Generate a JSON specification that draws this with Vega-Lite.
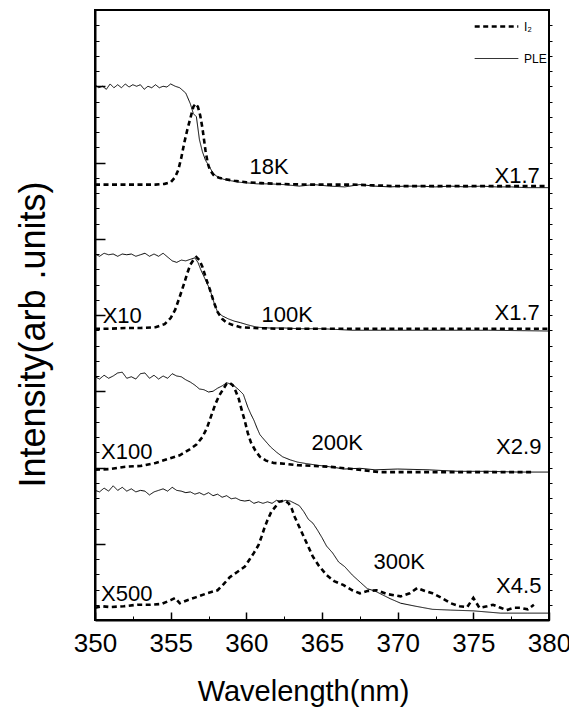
{
  "$schema": "https://vega.github.io/schema/vega-lite/v6.json",
  "width": 454,
  "height": 610,
  "autosize": {"type": "none"},
  "padding": {"left": 95, "top": 10, "right": 20, "bottom": 93},
  "background": "white",
  "config": {
    "view": {"stroke": "black", "strokeWidth": 2},
    "axis": {"grid": false, "domainColor": "black", "tickColor": "black", "labelColor": "black", "titleColor": "black", "labelFont": "Liberation Sans", "titleFont": "Liberation Sans", "titleFontWeight": "normal"}
  },
  "datasets": {
    "curves": [
      {"temp": "18K", "series": "PLE",
       "nm": [350,350.25,350.5,350.75,351,351.25,351.5,351.75,352,352.25,352.5,352.75,353,353.25,353.5,353.75,354,354.25,354.5,354.75,355,355.3,355.6,356,356.3,356.5,356.7,356.9,357.1,357.3,357.6,357.8,358.1,358.5,359,359.6,360.2,360.7,361.5,362.5,363.5,364.5,365.5,366.5,367.5,368.5,369.5,370.5,371.5,372.5,373.5,374.5,375.5,376.5,377.5,378.5,380],
       "intensity": [7.02,6.98,7.0,6.96,7.03,6.98,7.02,6.98,7.03,6.99,7.02,7.0,7.02,6.96,7.0,6.98,7.02,6.98,7.0,6.99,7.03,7.0,6.98,6.91,6.77,6.64,6.6,6.3,6.14,6.03,5.93,5.86,5.81,5.78,5.76,5.74,5.73,5.72,5.72,5.71,5.69,5.71,5.69,5.68,5.71,5.69,5.68,5.69,5.69,5.68,5.69,5.68,5.69,5.68,5.68,5.67,5.67]},
      {"temp": "18K", "series": "I\u2082",
       "nm": [350,351,352,353,354,354.6,355,355.3,355.5,355.7,355.9,356.1,356.3,356.5,356.65,356.8,356.95,357.1,357.3,357.45,357.6,357.9,358.2,358.6,359.2,360,361,362,364,367,370,374,378,380],
       "intensity": [5.71,5.71,5.71,5.71,5.71,5.72,5.74,5.81,5.9,6.06,6.26,6.43,6.58,6.73,6.77,6.73,6.62,6.45,6.16,5.99,5.9,5.82,5.8,5.78,5.76,5.74,5.73,5.72,5.71,5.71,5.69,5.69,5.69,5.69]},
      {"temp": "100K", "series": "PLE",
       "nm": [350,350.3,350.6,350.9,351.2,351.5,351.8,352.1,352.4,352.7,353,353.3,353.6,353.9,354.2,354.5,354.8,355.1,355.4,355.7,356,356.3,356.6,356.8,357,357.3,357.6,357.9,358.1,358.4,358.8,359.2,359.6,360.1,360.7,361.5,362.5,363.5,365,367,370,373,376,380],
       "intensity": [4.8,4.77,4.81,4.79,4.8,4.77,4.8,4.79,4.8,4.77,4.79,4.81,4.77,4.8,4.77,4.81,4.76,4.71,4.69,4.72,4.71,4.73,4.75,4.69,4.59,4.46,4.33,4.14,4.04,3.99,3.95,3.92,3.9,3.87,3.84,3.83,3.83,3.82,3.82,3.8,3.8,3.8,3.8,3.79]},
      {"temp": "100K", "series": "I\u2082",
       "nm": [350,351,352,353,354,354.6,355,355.3,355.6,355.9,356.1,356.3,356.5,356.7,356.9,357.1,357.35,357.6,357.85,358.1,358.4,358.7,359.1,359.6,360.5,362,365,370,375,380],
       "intensity": [3.82,3.82,3.83,3.83,3.84,3.88,3.96,4.07,4.24,4.42,4.55,4.66,4.72,4.76,4.72,4.63,4.47,4.33,4.17,4.04,3.95,3.9,3.87,3.84,3.83,3.82,3.82,3.82,3.82,3.82]},
      {"temp": "200K", "series": "PLE",
       "nm": [350,350.3,350.6,350.9,351.2,351.5,351.8,352.1,352.4,352.7,353,353.3,353.6,353.9,354.2,354.5,354.8,355.1,355.4,355.7,356,356.3,356.6,356.9,357.2,357.5,357.8,358.1,358.4,358.7,358.9,359.2,359.5,359.8,360.1,360.3,360.5,360.7,360.9,361.2,361.6,362,362.4,362.9,363.4,364,364.7,365.5,366.5,367.5,368.5,370,372,374,376,378,380],
       "intensity": [3.19,3.16,3.21,3.17,3.2,3.24,3.25,3.17,3.19,3.16,3.23,3.24,3.17,3.21,3.16,3.2,3.17,3.23,3.2,3.19,3.15,3.12,3.08,3.03,3.02,2.99,3.0,3.04,3.07,3.11,3.1,3.07,3.02,2.96,2.79,2.7,2.62,2.52,2.43,2.36,2.27,2.2,2.14,2.1,2.07,2.05,2.03,2.01,1.98,1.99,1.97,1.98,1.97,1.95,1.95,1.94,1.94]},
      {"temp": "200K", "series": "I\u2082",
       "nm": [350,351,352,353,354,354.8,355.6,356.2,356.7,357.1,357.4,357.7,357.95,358.2,358.45,358.7,358.9,359.1,359.3,359.5,359.7,359.9,360.1,360.3,360.6,360.9,361.3,361.8,362.5,363.4,364.5,365.5,367,368.8,371,373,375,377,379],
       "intensity": [1.97,1.98,2.01,2.02,2.06,2.11,2.16,2.23,2.3,2.4,2.52,2.69,2.83,2.94,3.02,3.1,3.11,3.08,3.0,2.9,2.75,2.61,2.45,2.33,2.22,2.14,2.09,2.06,2.05,2.03,2.02,2.01,1.98,1.94,1.94,1.94,1.94,1.94,1.94]},
      {"temp": "300K", "series": "PLE",
       "nm": [350,350.3,350.6,350.9,351.2,351.5,351.8,352.1,352.4,352.7,353,353.3,353.6,353.9,354.2,354.5,354.8,355.1,355.4,355.7,356,356.3,356.6,356.9,357.2,357.5,357.8,358.1,358.4,358.7,359,359.3,359.6,359.9,360.2,360.5,360.8,361.1,361.4,361.7,362,362.3,362.6,362.9,363.2,363.5,363.8,364.1,364.4,364.7,365,365.3,365.7,366.1,366.5,367,367.5,368,368.5,369,369.5,370.2,371.2,372.3,373.5,375,376.8,378.6,380],
       "intensity": [1.7,1.68,1.73,1.69,1.76,1.7,1.74,1.69,1.72,1.68,1.7,1.69,1.64,1.68,1.7,1.72,1.69,1.74,1.7,1.69,1.67,1.68,1.65,1.67,1.64,1.67,1.63,1.65,1.61,1.63,1.59,1.6,1.57,1.56,1.57,1.53,1.55,1.53,1.55,1.53,1.57,1.55,1.57,1.56,1.53,1.5,1.42,1.32,1.27,1.18,1.08,0.97,0.88,0.76,0.7,0.59,0.5,0.41,0.38,0.33,0.28,0.22,0.18,0.14,0.13,0.12,0.09,0.09,0.09]},
      {"temp": "300K", "series": "I\u2082",
       "nm": [350,350.5,351,351.9,352.8,353.6,354.4,355,355.3,355.6,356.1,356.7,357.4,358.1,358.5,358.9,359.4,359.9,360.2,360.5,360.8,361,361.2,361.4,361.65,361.9,362.15,362.4,362.6,362.8,363,363.2,363.5,363.8,364.1,364.4,364.8,365.3,365.8,366.4,367,367.5,368,368.6,369.3,370.2,370.8,371.3,371.8,372.3,372.9,373.5,374.1,374.6,375,375.4,375.9,376.3,376.8,377.2,377.7,378.1,378.6,379],
       "intensity": [0.16,0.18,0.17,0.18,0.2,0.2,0.21,0.26,0.29,0.22,0.26,0.3,0.35,0.39,0.47,0.56,0.63,0.7,0.79,0.88,0.98,1.09,1.21,1.31,1.42,1.48,1.55,1.56,1.56,1.53,1.46,1.35,1.22,1.09,0.96,0.83,0.71,0.59,0.51,0.46,0.39,0.35,0.38,0.39,0.34,0.31,0.35,0.42,0.38,0.35,0.29,0.22,0.18,0.17,0.29,0.16,0.18,0.2,0.16,0.13,0.16,0.16,0.14,0.2]}
    ],
    "temps": [
      {"label": "18K", "nm": 361.5, "intensity": 5.94},
      {"label": "100K", "nm": 362.7, "intensity": 4.0},
      {"label": "200K", "nm": 366.0, "intensity": 2.32},
      {"label": "300K", "nm": 370.1, "intensity": 0.76},
      {"label": "X10", "nm": 351.8, "intensity": 3.99},
      {"label": "X100", "nm": 352.1, "intensity": 2.2},
      {"label": "X500", "nm": 352.1, "intensity": 0.34}
    ],
    "mults": [
      {"label": "X1.7", "nm": 377.9, "intensity": 5.82},
      {"label": "X1.7", "nm": 377.9, "intensity": 4.03},
      {"label": "X2.9", "nm": 378.0, "intensity": 2.27},
      {"label": "X4.5", "nm": 378.0, "intensity": 0.45}
    ]
  },
  "layer": [
    {
      "data": {"name": "curves"},
      "transform": [{"flatten": ["nm", "intensity"]}],
      "mark": {"type": "line", "color": "black", "clip": true},
      "encoding": {
        "x": {"field": "nm", "type": "quantitative",
              "scale": {"domain": [350, 380], "nice": false, "zero": false},
              "axis": {"orient": "bottom", "values": [350,355,360,365,370,375,380], "format": "d",
                       "tickSize": -8, "tickWidth": 1.5, "labelPadding": 18, "labelFontSize": 26,
                       "labelFlush": false, "labelOverlap": false, "domainWidth": 2,
                       "title": "Wavelength(nm)", "titleFontSize": 29, "titleX": 208, "titleY": 80,
                       "titleBaseline": "alphabetic", "titleAlign": "center"}},
        "y": {"field": "intensity", "type": "quantitative",
              "scale": {"domain": [0, 8], "nice": false, "zero": false},
              "axis": {"orient": "left", "values": [1,2,3,4,5,6,7], "tickSize": -10, "tickWidth": 1.5,
                       "labels": false, "domainWidth": 2,
                       "title": "Intensity(arb .units)", "titleFontSize": 36, "titleAngle": -90,
                       "titleX": -51, "titleY": 324, "titleAlign": "center", "titleBaseline": "alphabetic"}},
        "detail": {"field": "temp", "type": "nominal"},
        "strokeDash": {"field": "series", "type": "nominal",
                       "scale": {"domain": ["I\u2082", "PLE"], "range": [[5, 3.5], [1, 0]]},
                       "legend": {"orient": "none", "legendX": 378, "legendY": -7, "title": null,
                                  "symbolType": "stroke", "symbolSize": 1900, "symbolStrokeColor": "black",
                                  "labelFontSize": 12, "labelFont": "Liberation Sans", "labelColor": "black",
                                  "rowPadding": 3, "labelOffset": 4, "padding": 0}},
        "strokeWidth": {"field": "series", "type": "nominal",
                        "scale": {"domain": ["I\u2082", "PLE"], "range": [2.6, 1]},
                        "legend": {"orient": "none", "legendX": 378, "legendY": -7, "title": null,
                                   "symbolType": "stroke", "symbolSize": 1900, "symbolStrokeColor": "black",
                                   "labelFontSize": 12, "labelFont": "Liberation Sans", "labelColor": "black",
                                   "rowPadding": 3, "labelOffset": 4, "padding": 0}}
      }
    },
    {
      "data": {"name": "temps"},
      "mark": {"type": "text", "font": "Liberation Sans", "fontSize": 22, "color": "black", "align": "center", "baseline": "middle"},
      "encoding": {
        "x": {"field": "nm", "type": "quantitative",
              "scale": {"domain": [350, 380], "nice": false, "zero": false},
              "axis": {"orient": "bottom", "values": [352.5,357.5,362.5,367.5,372.5,377.5], "tickSize": -4, "tickWidth": 1,
                       "labels": false, "domain": false, "title": null}},
        "y": {"field": "intensity", "type": "quantitative",
              "scale": {"domain": [0, 8], "nice": false, "zero": false},
              "axis": {"orient": "left", "values": [0.2,0.4,0.6,0.8,1.2,1.4,1.6,1.8,2.2,2.4,2.6,2.8,3.2,3.4,3.6,3.8,4.2,4.4,4.6,4.8,5.2,5.4,5.6,5.8,6.2,6.4,6.6,6.8,7.2,7.4,7.6,7.8],
                       "tickSize": -4, "tickWidth": 1, "labels": false, "domain": false, "title": null}},
        "text": {"field": "label", "type": "nominal"}
      }
    },
    {
      "data": {"name": "mults"},
      "mark": {"type": "text", "font": "Liberation Sans", "fontSize": 22, "color": "black", "align": "center", "baseline": "middle"},
      "encoding": {
        "x": {"field": "nm", "type": "quantitative",
              "scale": {"domain": [350, 380], "nice": false, "zero": false}, "axis": null},
        "y": {"field": "intensity", "type": "quantitative",
              "scale": {"domain": [0, 8], "nice": false, "zero": false},
              "axis": {"orient": "right", "values": [0.2,0.4,0.6,0.8,1,1.2,1.4,1.6,1.8,2,2.2,2.4,2.6,2.8,3,3.2,3.4,3.6,3.8,4,4.2,4.4,4.6,4.8,5,5.2,5.4,5.6,5.8,6,6.2,6.4,6.6,6.8,7,7.2,7.4,7.6,7.8],
                       "tickSize": 3, "tickWidth": 1, "labels": false, "domain": false, "title": null}},
        "text": {"field": "label", "type": "nominal"}
      }
    }
  ],
  "resolve": {"axis": {"x": "independent", "y": "independent"}}
}
